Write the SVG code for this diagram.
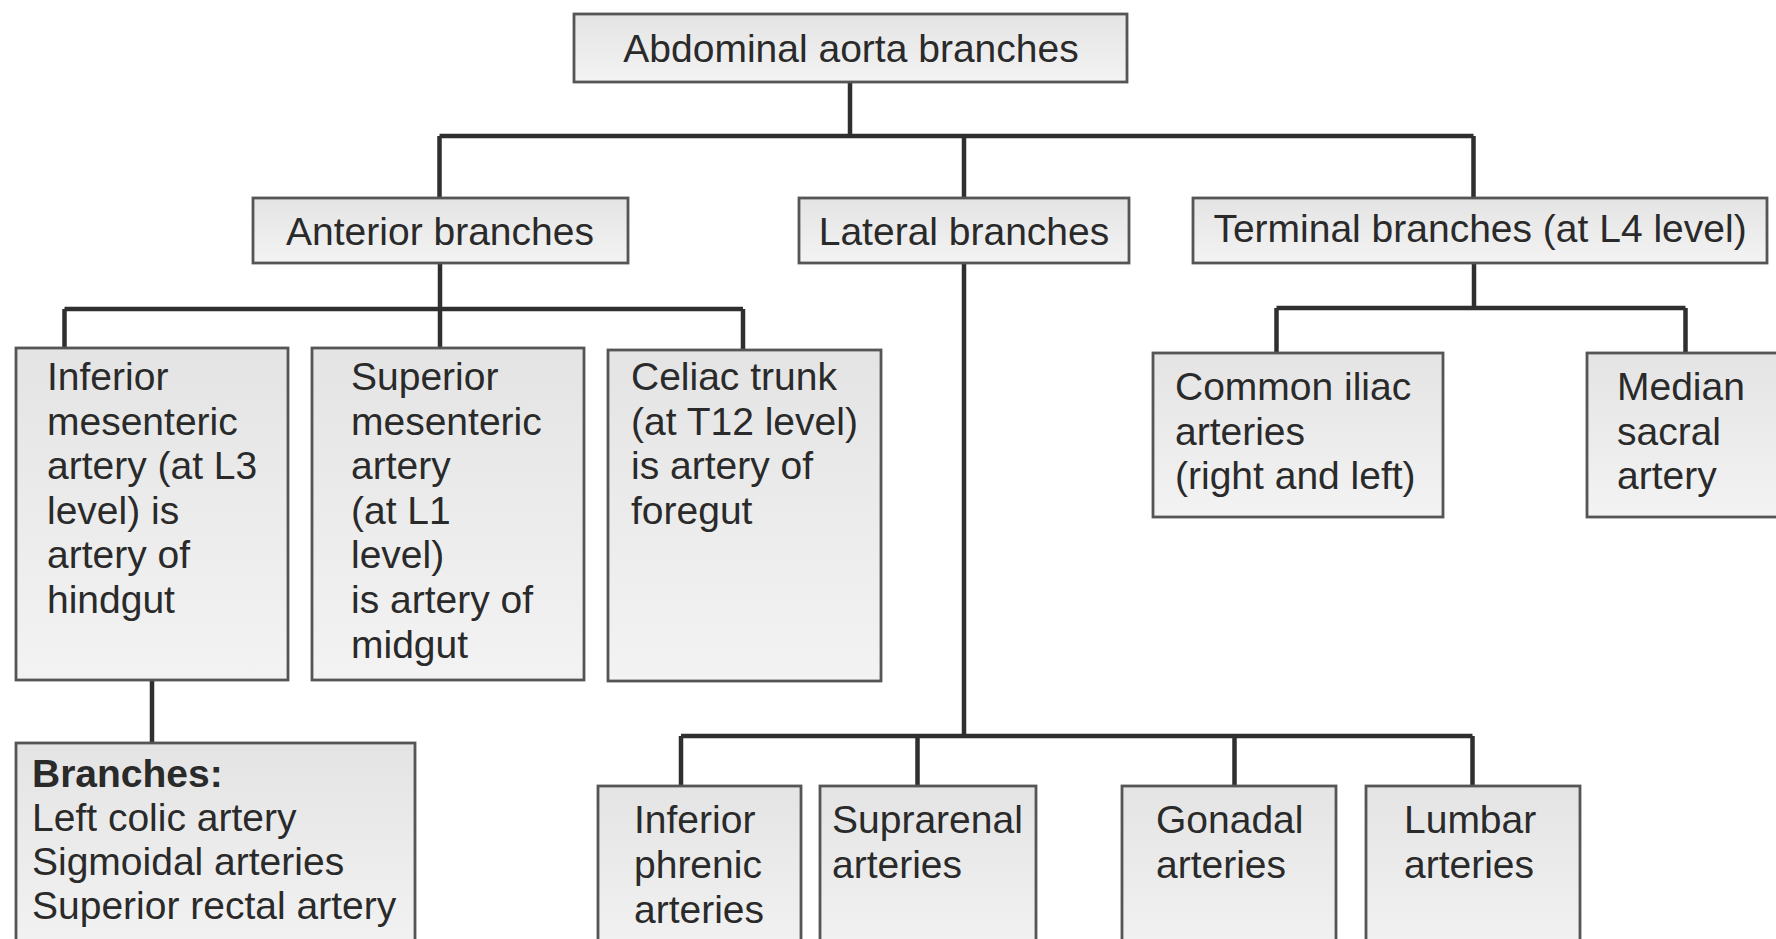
<svg xmlns="http://www.w3.org/2000/svg" width="1776" height="939" viewBox="0 0 1776 939">
<defs>
<linearGradient id="bg" x1="0" y1="0" x2="0" y2="1">
<stop offset="0" stop-color="#e4e4e4"/>
<stop offset="1" stop-color="#f3f3f3"/>
</linearGradient>
</defs>
<style>
rect.box{fill:url(#bg);stroke:#555;stroke-width:2.8}
text{font-family:"Liberation Sans",Arial,sans-serif;font-size:39px;fill:#2a2a2a}
text.c{text-anchor:middle}
.conn path{fill:none;stroke:#2f2f2f;stroke-width:4.5}
</style>
<rect width="1776" height="939" fill="#ffffff"/>
<g class="conn" id="connectors">
<path d="M850,82V136M439.5,136H1473.5M439.5,136V198M964,136V198M1473.5,136V198"/>
<path d="M440,263V309M64.5,309H743M64.5,309V348M440,309V348M743,309V350"/>
<path d="M152,680V743"/>
<path d="M964,263V736M681,736H1472.5M681,736V786M917.5,736V786M1234.5,736V786M1472.5,736V786"/>
<path d="M1474,263V308M1276.5,308H1685.5M1276.5,308V353M1685.5,308V353"/>
</g>
<g id="n-aorta"><rect class="box" x="574" y="14" width="553" height="68"/><text class="c" x="851" y="62">Abdominal aorta branches</text></g>
<g id="n-anterior"><rect class="box" x="253" y="198" width="375" height="65"/><text class="c" x="440" y="245">Anterior branches</text></g>
<g id="n-lateral"><rect class="box" x="799" y="198" width="330" height="65"/><text class="c" x="964" y="245">Lateral branches</text></g>
<g id="n-terminal"><rect class="box" x="1193" y="198" width="574" height="65"/><text class="c" x="1480" y="242">Terminal branches (at L4 level)</text></g>
<g id="n-ima"><rect class="box" x="16" y="348" width="272" height="332"/>
<text x="47" y="390">Inferior</text><text x="47" y="434.6">mesenteric</text><text x="47" y="479.2">artery (at L3</text><text x="47" y="523.8">level) is</text><text x="47" y="568.4">artery of</text><text x="47" y="613">hindgut</text></g>
<g id="n-sma"><rect class="box" x="312" y="348" width="272" height="332"/>
<text x="351" y="390">Superior</text><text x="351" y="434.6">mesenteric</text><text x="351" y="479.2">artery</text><text x="351" y="523.8">(at L1</text><text x="351" y="568.4">level)</text><text x="351" y="613">is artery of</text><text x="351" y="657.6">midgut</text></g>
<g id="n-celiac"><rect class="box" x="608" y="350" width="273" height="331"/>
<text x="631" y="390">Celiac trunk</text><text x="631" y="434.6">(at T12 level)</text><text x="631" y="479.2">is artery of</text><text x="631" y="523.8">foregut</text></g>
<g id="n-imabranches"><rect class="box" x="16" y="743" width="399" height="220"/>
<text x="32" y="787" font-weight="bold">Branches:</text><text x="32" y="831">Left colic artery</text><text x="32" y="875">Sigmoidal arteries</text><text x="32" y="919">Superior rectal artery</text></g>
<g id="n-iliac"><rect class="box" x="1153" y="353" width="290" height="164"/>
<text x="1175" y="400">Common iliac</text><text x="1175" y="444.5">arteries</text><text x="1175" y="489">(right and left)</text></g>
<g id="n-sacral"><rect class="box" x="1587" y="353" width="210" height="164"/>
<text x="1617" y="400">Median</text><text x="1617" y="444.5">sacral</text><text x="1617" y="489">artery</text></g>
<g id="n-phrenic"><rect class="box" x="598" y="786" width="203" height="180"/>
<text x="634" y="833">Inferior</text><text x="634" y="878">phrenic</text><text x="634" y="923">arteries</text></g>
<g id="n-suprarenal"><rect class="box" x="820" y="786" width="216" height="180"/>
<text x="832" y="833">Suprarenal</text><text x="832" y="878">arteries</text></g>
<g id="n-gonadal"><rect class="box" x="1122" y="786" width="214" height="180"/>
<text x="1156" y="833">Gonadal</text><text x="1156" y="878">arteries</text></g>
<g id="n-lumbar"><rect class="box" x="1366" y="786" width="214" height="180"/>
<text x="1404" y="833">Lumbar</text><text x="1404" y="878">arteries</text></g>
</svg>
